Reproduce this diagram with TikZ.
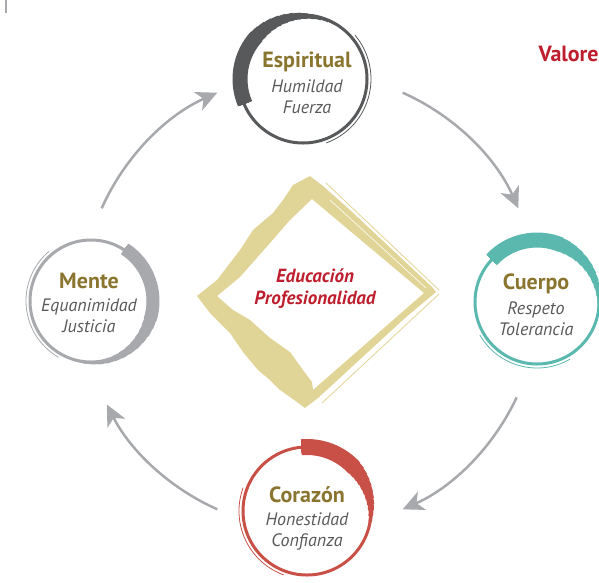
\documentclass[tikz,border=0pt]{standalone}
\usepackage{fontspec}
\setmainfont{PT Sans}
\usetikzlibrary{arrows.meta}

\definecolor{oliva}{RGB}{138,117,47}
\definecolor{grisvalor}{RGB}{88,89,91}
\definecolor{rojo}{RGB}{190,30,45}
\definecolor{arena}{RGB}{224,213,150}
\definecolor{pizarra}{RGB}{88,89,91}
\definecolor{plata}{RGB}{167,169,172}
\definecolor{turquesa}{RGB}{91,184,174}
\definecolor{coral}{RGB}{200,80,70}

\newcommand{\titulo}{\color{oliva}\bfseries\fontsize{22}{25}\selectfont}
\newcommand{\valor}{\color{grisvalor}\itshape}
% trazo de pincel: color, centro, radio, angulo del corte, angulo de la cola, grosor
\newcommand{\brocha}[6]{%
	\foreach \k in {0,...,12}{%
		\draw[#1, line width={1+\k*(#6-1)/12}] (#2) ++(#4:#3)
			arc[start angle=#4, end angle={#5-\k*(#5-(#4))*0.045}, radius=#3];
	}}

\tikzset{
  texto/.style={align=center, inner sep=0pt, font=\fontsize{18}{21}\selectfont},
  nucleo/.style={align=center, inner sep=0pt, text=rojo, font=\bfseries\itshape\fontsize{19}{22}\selectfont},
  flecha/.style={draw=plata, line width=2.5pt, -{Stealth[length=21pt,width=20pt,inset=6pt]}},
  anillo/.style={line width=3pt},
  pelo/.style={line width=0.8pt}
}

\begin{document}
\begin{tikzpicture}[x=1pt, y=-1pt]
	\useasboundingbox (0,0) rectangle (599,582);

	% marca arriba a la izquierda
	\draw[plata, line width=1.5pt] (6,0) -- (6,13);

	\node[anchor=base west, text=rojo, font=\bfseries\fontsize{22}{26}\selectfont] (valores) at (535,61) {Valore};

	% centros de los anillos
	\coordinate (c-esp) at (303,79);
	\coordinate (c-cue) at (537,302);
	\coordinate (c-cor) at (307,511);
	\coordinate (c-men) at (91,301);
	\coordinate (hub) at (310,301);

	% rombo central
	\fill[arena, even odd rule]
		(310,176) -- (323,186) -- (350,210) -- (432,287) -- (436,292) -- (405,318) -- (318,398)
		-- (305,408) -- (297,402) -- (280,390) -- (270,380) -- (258,370) -- (243,352) -- (230,333) -- (210,313)
		-- (197,296) -- (217,280) -- (240,250) -- (253,230) -- (273,213) -- (283,200) -- (293,185) -- (308,177) -- cycle
		(312,199) -- (424,293) -- (313,390) -- (312,382) -- (303,370) -- (290,352) -- (270,338) -- (250,320)
		-- (233,310) -- (217,296) -- (240,277) -- (270,243) -- (290,220) -- cycle;
	\draw[arena, pelo] (326,183) -- (439,290);
	\draw[arena, pelo] (439,294) -- (322,403);
	\draw[white, line width=0.6pt] (330,200) -- (426,288);

	% Espiritual
	\draw[pizarra, anillo] (c-esp) circle[radius=64];
	\draw[pizarra, pelo] (c-esp) ++(-40:68) arc[start angle=-40, end angle=70, radius=68];
	\brocha{pizarra}{c-esp}{63}{157}{300}{15}

	% Cuerpo
	\draw[turquesa, anillo] (c-cue) circle[radius=62];
	\draw[turquesa, pelo] (c-cue) ++(60:66) arc[start angle=60, end angle=150, radius=66];
	\brocha{turquesa}{c-cue}{62}{223}{375}{15}

	% Corazon
	\draw[coral, anillo] (c-cor) circle[radius=64];
	\draw[coral, pelo] (c-cor) ++(110:68) arc[start angle=110, end angle=200, radius=68];
	\brocha{coral}{c-cor}{64}{265}{380}{16}

	% Mente
	\draw[plata, anillo] (c-men) circle[radius=61];
	\draw[plata, pelo] (c-men) ++(120:65) arc[start angle=120, end angle=230, radius=65];
	\brocha{plata}{c-men}{62}{-57}{105}{13}

	% textos
	\node[texto] (espiritual) at (307,83) {{\titulo Espiritual}\\[4pt]{\valor Humildad}\\{\valor Fuerza}};
	\node[texto] (cuerpo) at (536,305) {{\titulo Cuerpo}\\[4pt]{\valor Respeto}\\{\valor Tolerancia}};
	\node[texto] (corazon) at (307,518) {{\titulo Corazón}\\[2pt]{\valor Honestidad}\\{\valor Confianza}};
	\node[texto] (mente) at (89,303) {{\titulo Mente}\\[2pt]{\valor Equanimidad}\\{\valor Justicia}};
	\node[nucleo] (centro) at (315,289) {Educación\\Profesionalidad};

	% flechas del ciclo
	\path (hub) ++(204:228) coordinate (m-sal);
	\path (hub) ++(-66:228) coordinate (e-sal);
	\path (hub) ++(25:228) coordinate (cu-sal);
	\path (hub) ++(114:228) coordinate (co-sal);
	\draw[flecha] (m-sal) arc[start angle=204, end angle=246, radius=228];
	\draw[flecha] (e-sal) arc[start angle=-66, end angle=-24, radius=228];
	\draw[flecha] (cu-sal) arc[start angle=25, end angle=66, radius=228];
	\draw[flecha] (co-sal) arc[start angle=114, end angle=153, radius=228];

\end{tikzpicture}
\end{document}
